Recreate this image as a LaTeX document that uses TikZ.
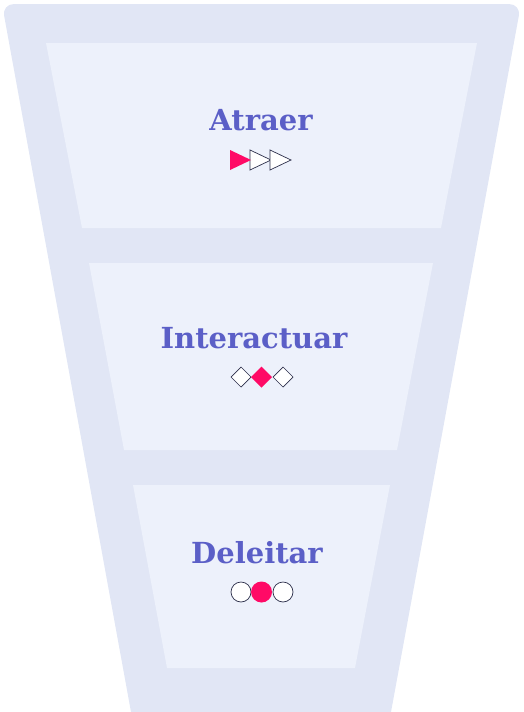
\documentclass[tikz,border=0pt]{standalone}
\usepackage{fontspec}
\setmainfont{DejaVu Serif}
\usepackage{tikz}
\usetikzlibrary{shapes.geometric, positioning}
\usepackage{xcolor}
\definecolor{funnelout}{HTML}{E1E6F5}
\definecolor{funnelin}{HTML}{EDF1FB}
\definecolor{stagetext}{HTML}{5B5FC7}
\definecolor{accentpink}{HTML}{FF0A66}
\definecolor{markline}{HTML}{2B2E4A}

\begin{document}
\begin{tikzpicture}[
    x=1pt, y=-1pt,
    stage/.style={font=\bfseries\fontsize{29}{34}\selectfont, text=stagetext, inner sep=0pt},
    panel/.style={fill=funnelin},
    markoff/.style={draw=markline, line width=0.7pt, fill=white}
]
    \useasboundingbox (0,0) rectangle (523,712);

    % Funnel body
    \fill[funnelout] (131,712) [rounded corners=12pt] -- (2,4) -- (521,4) [sharp corners] -- (391,712) -- cycle;

    % Stage panels
    \fill[panel] (46,43) -- (477,43) -- (441,228) -- (82,228) -- cycle;
    \fill[panel] (89,263) -- (433,263) -- (397,450) -- (124,450) -- cycle;
    \fill[panel] (133,485) -- (390,485) -- (355,668) -- (167,668) -- cycle;

    % Stage labels
    \node[stage] (atraer) at (261,120) {Atraer};
    \node[stage] (interactuar) at (254,338) {Interactuar};
    \node[stage] (deleitar) at (257,553) {Deleitar};

    % Triangles
    \foreach \tx in {250,270} {
        \draw[markoff] (\tx,150) -- (\tx+21,160) -- (\tx,170) -- cycle;
    }
    \fill[accentpink] (230,150) -- (251,160) -- (230,170) -- cycle;

    % Diamonds
    \foreach \dx in {241,283} {
        \draw[markoff] (\dx-10,377) -- (\dx,367) -- (\dx+10,377) -- (\dx,387) -- cycle;
    }
    \fill[accentpink] (251,377) -- (261.5,366.5) -- (272,377) -- (261.5,387.5) -- cycle;

    % Circles
    \foreach \cx in {241,283} {
        \draw[markoff] (\cx,592) circle (10);
    }
    \fill[accentpink] (261.5,592) circle (10.5);
\end{tikzpicture}
\end{document}
